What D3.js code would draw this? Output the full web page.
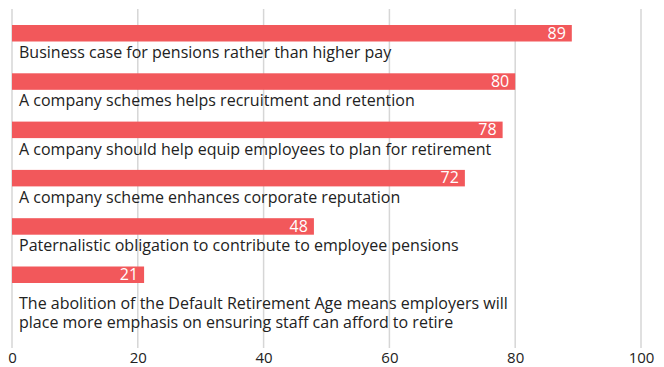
<!DOCTYPE html>
<html>
<head>
<meta charset="utf-8">
<script src="https://cdn.jsdelivr.net/npm/d3@7"></script>
<style>
  html, body { margin: 0; padding: 0; background: #fff; }
  svg { display: block; }
  text { font-family: "Open Sans", "Noto Sans", sans-serif; }
</style>
</head>
<body>
<div id="chart"></div>
<script>
// Reasons given, in display order (top to bottom); "\n" marks a line break
const categories = [
  "Business case for pensions rather than higher pay",
  "A company schemes helps recruitment and retention",
  "A company should help equip employees to plan for retirement",
  "A company scheme enhances corporate reputation",
  "Paternalistic obligation to contribute to employee pensions",
  "The abolition of the Default Retirement Age means employers will\nplace more emphasis on ensuring staff can afford to retire"
];
const values = [89, 80, 78, 72, 48, 21];
const xTicks = [0, 20, 40, 60, 80, 100];

const width = 664, height = 367;
const margin = { left: 12, right: 23, top: 25 };
const gridTop = 9, gridBottom = 348;

const svg = d3.select("#chart").append("svg")
  .attr("width", width).attr("height", height);

const x = d3.scaleLinear().domain([0, 100]).range([margin.left, width - margin.right]);
const y = d3.scaleBand().domain(categories).range([margin.top, margin.top + 6 * 48.3]);
const barH = 16.5;

// vertical gridlines
svg.append("g").selectAll("line").data(xTicks).join("line")
  .attr("x1", d => x(d)).attr("x2", d => x(d))
  .attr("y1", gridTop).attr("y2", gridBottom)
  .attr("stroke", "#d6d6d6").attr("stroke-width", 1.5);

// bottom axis labels
const axis = d3.axisBottom(x).tickValues(xTicks).tickSize(0).tickPadding(0);
const gAxis = svg.append("g").attr("transform", `translate(0,${gridBottom})`).call(axis);
gAxis.select(".domain").remove();
gAxis.selectAll("text")
  .attr("dy", null).attr("y", 15)
  .attr("fill", "#222").style("font-size", "15px")
  .style("font-family", '"Open Sans", "Noto Sans", sans-serif');

const rows = svg.append("g").selectAll("g").data(categories).join("g")
  .attr("transform", c => `translate(0,${y(c)})`);

rows.append("rect")
  .attr("x", x(0)).attr("y", 0)
  .attr("width", (c, i) => x(values[i]) - x(0))
  .attr("height", barH)
  .attr("fill", "#f2585b");

rows.append("text")
  .attr("x", (c, i) => x(values[i]) - 6)
  .attr("y", 13.5)
  .attr("text-anchor", "end")
  .attr("fill", "#fff")
  .style("font-size", "16px")
  .text((c, i) => values[i]);

rows.append("text")
  .attr("x", 19).attr("y", 33)
  .attr("fill", "#222")
  .style("font-size", "16px")
  .selectAll("tspan").data((c, i) => {
    const lines = c.split("\n");
    return lines.map((l, k) => ({ l, k, extra: lines.length > 1 }));
  }).join("tspan")
  .attr("x", 19)
  .attr("y", d => (d.extra ? 42 : 33) + d.k * 19.5)
  .text(d => d.l);
</script>
</body>
</html>
